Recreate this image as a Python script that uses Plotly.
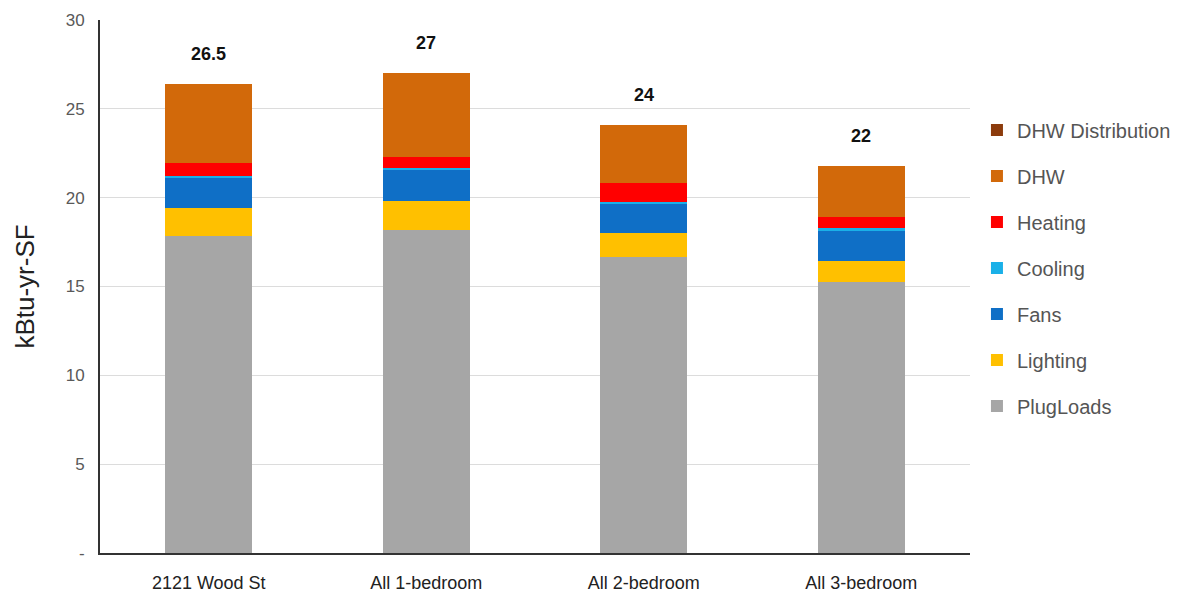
import plotly.graph_objects as go

categories = ["2121 Wood St", "All 1-bedroom", "All 2-bedroom", "All 3-bedroom"]
plug_loads = [17.85, 18.2, 16.64, 15.27]
lighting = [1.55, 1.6, 1.36, 1.16]
fans = [1.75, 1.8, 1.65, 1.74]
cooling = [0.05, 0.05, 0.12, 0.1]
heating = [0.76, 0.65, 1.03, 0.66]
dhw = [4.44, 4.73, 3.28, 2.87]
dhw_distribution = [0, 0, 0, 0]
total_labels = ["26.5", "27", "24", "22"]
y_tickvals = [0, 5, 10, 15, 20, 25, 30]
y_ticktext = ["-", "5", "10", "15", "20", "25", "30"]

series = [
    ("PlugLoads", plug_loads, "#a6a6a6"),
    ("Lighting", lighting, "#ffc000"),
    ("Fans", fans, "#0f6fc6"),
    ("Cooling", cooling, "#1ab0e8"),
    ("Heating", heating, "#ff0000"),
    ("DHW", dhw, "#d2690a"),
    ("DHW Distribution", dhw_distribution, "#8c3b0c"),
]

fig = go.Figure()
n = len(series)
for i, (name, vals, color) in enumerate(series):
    fig.add_trace(go.Bar(
        x=categories, y=vals, name=name, marker=dict(color=color, line=dict(width=0)),
        legendgroup=name, legendrank=n - i, width=0.4,
    ))

totals = [sum(v[i] for _, v, _ in series) for i in range(len(categories))]
for cat, tot, lab in zip(categories, totals, total_labels):
    fig.add_annotation(x=cat, y=tot, text="<b>" + lab + "</b>", showarrow=False,
                       yshift=30, font=dict(size=18, color="#111", family="Liberation Sans Narrow, Arial Narrow, Arial"))

fig.update_layout(
    barmode="stack",
    width=1180, height=593,
    margin=dict(l=100, r=210, t=20, b=40, autoexpand=False),
    plot_bgcolor="white", paper_bgcolor="white",
    font=dict(family="Liberation Sans, Arial", color="#333"),
    legend=dict(
        x=1.008, y=0.83, xanchor="left", yanchor="top",
        traceorder="grouped", tracegroupgap=17,
        font=dict(size=20, color="#555", family="Liberation Sans, Arial"),
        itemwidth=30,
    ),
    showlegend=True,
)
fig.update_xaxes(
    showline=True, linecolor="#333", linewidth=2, ticks="", automargin=False,
    tickfont=dict(size=18, color="#222", family="Liberation Sans Narrow, Arial Narrow, Arial"),
    ticklabelstandoff=12,
)
fig.update_yaxes(
    range=[0, 30], tickvals=y_tickvals, ticktext=y_ticktext, automargin=False,
    showgrid=True, gridcolor="#dcdcdc", gridwidth=1,
    showline=True, linecolor="#333", linewidth=2, zeroline=False,
    tickfont=dict(size=17, color="#595959", family="Liberation Sans, Arial"),
    title=dict(text="kBtu-yr-SF", font=dict(size=26, color="#222"), standoff=24),
    ticklabelstandoff=10,
)
fig.write_html("out.html")
